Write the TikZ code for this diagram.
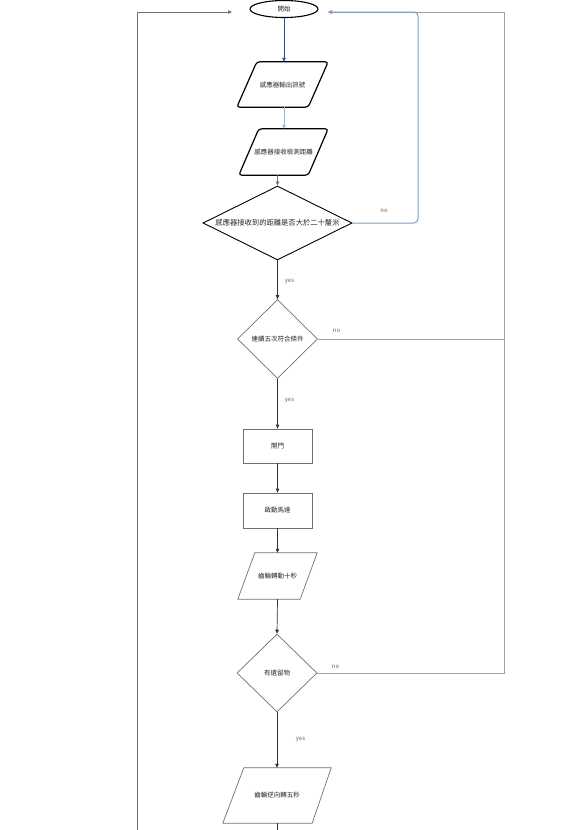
\documentclass[tikz,border=0pt]{standalone}
\usepackage{fontspec}
\newfontfamily\cjk{Noto Sans CJK TC}
\usetikzlibrary{shapes.geometric,arrows.meta}
\definecolor{darkblue}{HTML}{2F4F7F}
\definecolor{lightblue}{HTML}{9FB7D3}
\definecolor{loopblue}{HTML}{7E9CC0}
\definecolor{shapegray}{HTML}{707070}
\definecolor{linegray}{HTML}{A0A0A0}
\begin{document}
\begin{tikzpicture}[x=1pt,y=-1pt,
  txt/.style={font=\cjk\fontsize{6.5}{7}\selectfont, text=black!85},
  bigtxt/.style={font=\cjk\fontsize{7.3}{8}\selectfont, text=black!85},
  lbl/.style={font=\cjk\fontsize{6}{7}\selectfont, text=black!60},
  startbox/.style={ellipse, draw=black, line width=1.1pt, minimum width=68pt, minimum height=17pt, inner sep=0pt, txt},
  frame/.style={draw=none, inner sep=0pt},
  pgthick/.style={draw=black, line width=1.2pt, rounded corners=3pt},
  pgthin/.style={draw=shapegray, line width=0.7pt},
  dia1/.style={diamond, draw=black, line width=0.9pt, inner sep=0pt, minimum width=149pt, minimum height=74pt},
  dia/.style={diamond, draw=shapegray, line width=0.7pt, inner sep=0pt, minimum width=80pt, minimum height=79pt},
  boxstep/.style={rectangle, draw=shapegray, line width=0.7pt, inner sep=0pt, minimum width=69pt, minimum height=34pt, txt},
  tip/.style={-{Triangle[length=4pt,width=3.5pt]}},
  conn/.style={tip, draw=black!80, line width=0.7pt},
]
\useasboundingbox (0,0) rectangle (588,830);

% nodes
\node[startbox] (start) at (284,9) {開始};
\node[frame, minimum width=91pt, minimum height=45pt, txt] (p1) at (282.5,84.5) {感應器輸出訊號};
\node[frame, minimum width=89pt, minimum height=46pt, txt] (p2) at (283.5,152) {感應器接收檢測距離};
\node[dia1, label={[bigtxt]center:感應器接收到的距離是否大於二十釐米}] (d1) at (277.5,223) {};
\node[dia, label={[txt]center:連續五次符合條件}] (d2) at (277.5,339) {};
\node[boxstep] (b1) at (277.5,446) {開門};
\node[boxstep, minimum height=35pt] (b2) at (277.5,510.5) {啟動馬達};
\node[frame, minimum width=79pt, minimum height=46pt, txt] (p3) at (277.5,576) {齒輪轉動十秒};
\node[dia, minimum height=78pt, label={[txt]center:有遺留物}] (d3) at (277,673) {};
\node[frame, minimum width=108pt, minimum height=55pt, txt] (p4) at (277,795.5) {齒輪逆向轉五秒};

% parallelogram outlines
\draw[pgthick] ([xshift=20pt]p1.north west) -- (p1.north east) -- ([xshift=-20pt]p1.south east) -- (p1.south west) -- cycle;
\draw[pgthick] ([xshift=20pt]p2.north west) -- (p2.north east) -- ([xshift=-20pt]p2.south east) -- (p2.south west) -- cycle;
\draw[pgthin] ([xshift=17pt]p3.north west) -- (p3.north east) -- ([xshift=-17pt]p3.south east) -- (p3.south west) -- cycle;
\draw[pgthin] ([xshift=21pt]p4.north west) -- (p4.north east) -- ([xshift=-19pt]p4.south east) -- (p4.south west) -- cycle;

% coordinates
\coordinate (lin) at (232,12);
\coordinate (rin) at (328,12);
\coordinate (lt) at (137,12);
\coordinate (lb) at (137,830);
\coordinate (rc) at (504,12);
\coordinate (loop) at (418,12);
\coordinate (pend) at (277,830);

% connectors (top, blue)
\draw[tip, draw=darkblue, line width=0.8pt] (start.south) -- (start.south |- p1.north);
\draw[tip, draw=lightblue, line width=0.9pt] (p1.south -| start.south) -- (start.south |- p2.north);
\draw[tip, draw=darkblue!80, line width=0.8pt] (p2.south -| d1.north) -- (d1.north);

% gray return line
\draw[draw=linegray, line width=0.8pt] (d2.east) -- (d2.east -| rc);
\draw[tip, draw=linegray, line width=0.8pt] (d3.east) -| (rc) -- (rin);

% blue no loop
\draw[tip, draw=loopblue, line width=1pt, rounded corners=4pt] (d1.east) -| (loop) -- (rin);

% left return line
\draw[tip, draw=shapegray, line width=0.7pt] (lb) -- (lt) -- (lin);

% main flow
\draw[conn] (d1.south) -- (d2.north);
\draw[conn] (d2.south) -- (b1.north);
\draw[conn] (b1.south) -- (b2.north);
\draw[conn] (b2.south) -- (p3.north);
\draw[conn] (p3.south) -- (d3.north);
\draw[conn] (d3.south) -- (p4.north);
\draw[draw=black!80, line width=0.7pt] (p4.south) -- (pend);

% labels
\node[lbl] (n1) at (384,211) {no};
\node[lbl] (y1) at (289.5,282) {yes};
\node[lbl] (n2) at (336.5,331) {no};
\node[lbl] (y2) at (289.5,401) {yes};
\node[lbl] (n3) at (335.5,667) {no};
\node[lbl] (y3) at (300.5,740) {yes};
\end{tikzpicture}
\end{document}
